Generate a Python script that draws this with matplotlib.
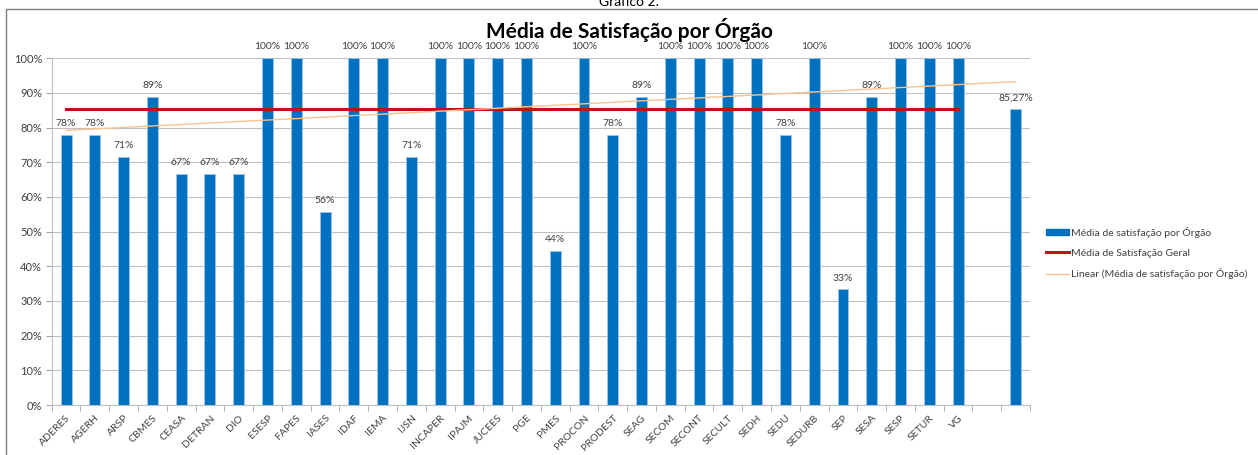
import matplotlib
matplotlib.use("Agg")
import matplotlib.pyplot as plt
import numpy as np
from matplotlib.patches import Rectangle, Patch
from matplotlib.lines import Line2D

plt.rcParams['font.family'] = ['Lato', 'DejaVu Sans']

categories = ["ADERES", "AGERH", "ARSP", "CBMES", "CEASA", "DETRAN", "DIO", "ESESP",
              "FAPES", "IASES", "IDAF", "IEMA", "IJSN", "INCAPER", "IPAJM", "JUCEES",
              "PGE", "PMES", "PROCON", "PRODEST", "SEAG", "SECOM", "SECONT", "SECULT",
              "SEDH", "SEDU", "SEDURB", "SEP", "SESA", "SESP", "SETUR", "VG", "", ""]
values = [77.78, 77.78, 71.43, 88.89, 66.67, 66.67, 66.67, 100,
          100, 55.56, 100, 100, 71.43, 100, 100, 100,
          100, 44.44, 100, 77.78, 88.89, 100, 100, 100,
          100, 77.78, 100, 33.33, 88.89, 100, 100, 100, None, 85.27]
media_geral = 85.27
value_labels = ["78%", "78%", "71%", "89%", "67%", "67%", "67%", "100%",
                "100%", "56%", "100%", "100%", "71%", "100%", "100%", "100%",
                "100%", "44%", "100%", "78%", "89%", "100%", "100%", "100%",
                "100%", "78%", "100%", "33%", "89%", "100%", "100%", "100%", "", "85,27%"]
yticks = [0, 10, 20, 30, 40, 50, 60, 70, 80, 90, 100]

W, H = 1258, 455
fig = plt.figure(figsize=(W / 100, H / 100), dpi=100)
fig.patch.set_facecolor("white")

# outer frame
fig.add_artist(Rectangle((6 / W, -0.05), 1.1, 1 - 9 / H + 0.05, transform=fig.transFigure,
                         fill=False, edgecolor="#808080", linewidth=1.0))
fig.text(0.5, 1 - 2 / H, "Gráfico 2.", ha="center", va="center", fontsize=10, color="black")

ax = fig.add_axes([51.7 / W, 1 - 405 / H, (1030 - 51.7) / W, (405 - 58.3) / H])

x = np.arange(len(categories))
bar_x = [xi for xi, v in zip(x, values) if v is not None]
bar_v = [v / 100 for v in values if v is not None]
ax.bar(bar_x, bar_v, width=0.38, color="#0070C0", edgecolor="#9DC3E6", linewidth=0.6, zorder=3)

for xi, v, lab in zip(x, values, value_labels):
    if v is None or not lab:
        continue
    ax.annotate(lab, (xi, v / 100), xytext=(0, 5), textcoords="offset points",
                ha="center", va="bottom", fontsize=7.5, color="#404040", clip_on=False)

# overall average line (first to VG)
named_idx = [i for i, c in enumerate(categories) if c]
ax.plot([named_idx[0], named_idx[-1]], [media_geral / 100] * 2, color="#C0101A",
        linewidth=2.2, zorder=4)

# linear trend
px = np.array(bar_x, dtype=float)
py = np.array(bar_v)
m, b = np.polyfit(px, py, 1)
tx = np.array([0, len(categories) - 1], dtype=float)
ax.plot(tx, m * tx + b, color="#F9C28E", linewidth=1.0, zorder=5)

ax.set_xlim(-0.5, len(categories) - 0.5)
ax.set_ylim(0, 1)
ax.set_yticks([t / 100 for t in yticks])
ax.set_yticklabels([f"{t}%" for t in yticks], fontsize=8, color="#404040")
ax.yaxis.grid(True, color="#BFBFBF", linewidth=0.8, zorder=0)
ax.set_axisbelow(True)

ax.set_xticks(x)
ax.set_xticklabels(categories, rotation=45, ha="right", rotation_mode="anchor",
                   fontsize=7.5, color="#404040")
ax.tick_params(axis="x", which="major", length=0, pad=6)
ax.set_xticks(np.arange(-0.5, len(categories), 1), minor=True)
ax.tick_params(axis="x", which="minor", length=4, color="#A6A6A6", direction="out")
ax.tick_params(axis="y", length=4, color="#A6A6A6", pad=3)

for s in ["top", "right"]:
    ax.spines[s].set_visible(False)
ax.spines["left"].set_color("#BFBFBF")
ax.spines["bottom"].set_color("#BFBFBF")

fig.text(630 / W, 1 - 30 / H, "Média de Satisfação por Órgão", ha="center", va="center",
         fontsize=15, fontweight="bold", color="black")

handles = [Patch(facecolor="#0070C0", edgecolor="#0070C0"),
           Line2D([0], [0], color="#C0101A", linewidth=2.2),
           Line2D([0], [0], color="#F9C28E", linewidth=1.0)]
labels = ["Média de satisfação por Órgão", "Média de Satisfação Geral",
          "Linear (Média de satisfação por Órgão)"]
leg = fig.legend(handles, labels, loc="center left", bbox_to_anchor=(1042 / W, 1 - 253 / H),
                 frameon=False, fontsize=7.5, handlelength=2.2, handleheight=0.5,
                 handletextpad=0.2, labelspacing=1.0, borderaxespad=0)
for t in leg.get_texts():
    t.set_color("#404040")

fig.savefig("out.png", dpi=100)
